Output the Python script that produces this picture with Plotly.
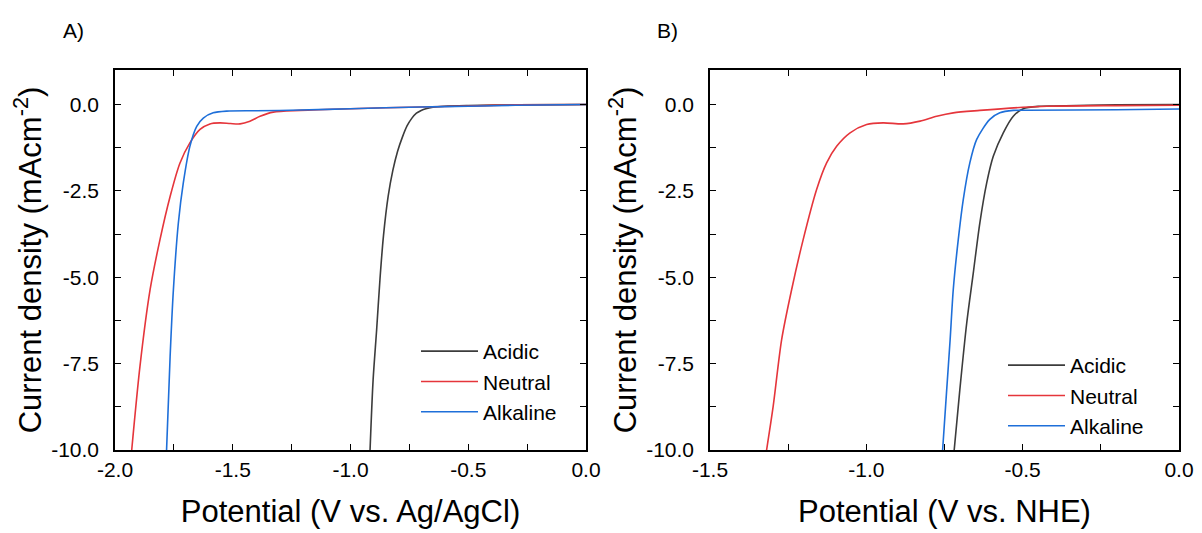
import plotly.graph_objects as go

# ---------------- Panel A data (V vs. Ag/AgCl) ----------------
a_acidic_x = [0.0, -0.3, -0.5, -0.6, -0.65, -0.68, -0.70, -0.72, -0.74, -0.76, -0.78, -0.80,
              -0.82, -0.84, -0.86, -0.875, -0.889, -0.904, -0.917]
a_acidic_y = [0.0, -0.01, -0.03, -0.05, -0.08, -0.12, -0.17, -0.25, -0.40, -0.62, -0.95, -1.35,
              -1.9, -2.65, -3.8, -5.07, -6.52, -7.97, -10.0]

a_neutral_x = [0.0, -0.3, -0.5, -0.7, -1.0, -1.214, -1.328, -1.384, -1.427, -1.469, -1.51,
               -1.554, -1.597, -1.639, -1.682, -1.724, -1.766, -1.809, -1.851, -1.894, -1.929]
a_neutral_y = [0.0, -0.01, -0.04, -0.07, -0.12, -0.17, -0.22, -0.34, -0.48, -0.56, -0.55,
               -0.53, -0.56, -0.72, -1.11, -1.69, -2.66, -3.91, -5.36, -7.58, -10.0]

a_alkaline_x = [0.0, -0.3, -0.5, -0.7, -1.0, -1.214, -1.4, -1.526, -1.583, -1.625, -1.653,
                -1.682, -1.710, -1.731, -1.752, -1.766, -1.781]
a_alkaline_y = [0.0, -0.02, -0.05, -0.07, -0.12, -0.16, -0.18, -0.19, -0.24, -0.39, -0.63,
                -1.21, -2.27, -3.43, -5.36, -7.3, -10.0]

# ---------------- Panel B data (V vs. NHE) ----------------
b_acidic_x = [0.0, -0.2, -0.4, -0.445, -0.498, -0.530, -0.562, -0.594, -0.615, -0.637, -0.658,
              -0.679, -0.701, -0.719]
b_acidic_y = [0.0, -0.01, -0.04, -0.05, -0.12, -0.34, -0.82, -1.50, -2.27, -3.43, -4.88,
              -6.33, -8.26, -10.0]

b_neutral_x = [0.0, -0.2, -0.422, -0.5, -0.637, -0.722, -0.775, -0.828, -0.882, -0.946, -0.999,
               -1.052, -1.095, -1.127, -1.159, -1.202, -1.239, -1.271, -1.298, -1.319]
b_neutral_y = [-0.02, -0.03, -0.05, -0.08, -0.17, -0.24, -0.34, -0.48, -0.56, -0.53, -0.58,
               -0.82, -1.21, -1.69, -2.46, -3.91, -5.36, -6.81, -8.74, -10.0]

b_alkaline_x = [0.0, -0.2, -0.488, -0.530, -0.573, -0.605, -0.647, -0.669, -0.690, -0.706,
                -0.722, -0.732, -0.743, -0.756]
b_alkaline_y = [-0.13, -0.15, -0.165, -0.17, -0.24, -0.43, -1.01, -1.69, -2.75, -3.91,
                -5.36, -6.81, -8.26, -10.0]

series_names = ["Acidic", "Neutral", "Alkaline"]
colors = ["#3c3c3c", "#e5353b", "#1e6fd9"]

y_tickvals = [0.0, -2.5, -5.0, -7.5, -10.0]
y_ticktext = ["0.0", "-2.5", "-5.0", "-7.5", "-10.0"]
xa_tickvals = [-2.0, -1.5, -1.0, -0.5, 0.0]
xa_ticktext = ["-2.0", "-1.5", "-1.0", "-0.5", "0.0"]
xb_tickvals = [-1.5, -1.0, -0.5, 0.0]
xb_ticktext = ["-1.5", "-1.0", "-0.5", "0.0"]

FONT = "Liberation Sans, Arial, sans-serif"

fig = go.Figure()
panel_a = [(a_acidic_x, a_acidic_y), (a_neutral_x, a_neutral_y), (a_alkaline_x, a_alkaline_y)]
panel_b = [(b_acidic_x, b_acidic_y), (b_neutral_x, b_neutral_y), (b_alkaline_x, b_alkaline_y)]

for (xs, ys), name, c in zip(panel_a, series_names, colors):
    fig.add_trace(go.Scatter(x=xs, y=ys, name=name, mode="lines",
                             line=dict(color=c, width=1.6, shape="spline", smoothing=0.8),
                             xaxis="x", yaxis="y", legend="legend"))
for (xs, ys), name, c in zip(panel_b, series_names, colors):
    fig.add_trace(go.Scatter(x=xs, y=ys, name=name, mode="lines",
                             line=dict(color=c, width=1.6, shape="spline", smoothing=0.8),
                             xaxis="x2", yaxis="y2", legend="legend2"))

W, H = 1202, 533
TICKFONT = dict(family=FONT, size=21, color="black")
TITLEFONT = dict(family=FONT, size=31, color="black")
ax_common = dict(showline=True, linecolor="black", linewidth=1.5, mirror="allticks",
                 ticks="inside", ticklen=6, tickwidth=1.3, tickcolor="black",
                 showgrid=False, zeroline=False, automargin=False,
                 tickfont=TICKFONT)
xminor = dict(tickmode="linear", tick0=0, dtick=0.25, ticks="inside", ticklen=6,
              tickwidth=1.3, tickcolor="black")
yminor = dict(tickmode="linear", tick0=0, dtick=1.25, ticks="inside", ticklen=6,
              tickwidth=1.3, tickcolor="black")
y_dom = [1 - 450 / H, 1 - 70 / H]
ytitle = "Current density (mAcm<sup>-2</sup>)"

fig.update_layout(
    width=W, height=H, plot_bgcolor="white", paper_bgcolor="white",
    margin=dict(l=0, r=0, t=0, b=0, autoexpand=False),
    showlegend=True,
    xaxis=dict(ax_common, domain=[115 / W, 586 / W], range=[-2.0, 0.0],
               tickmode="array", tickvals=xa_tickvals, ticktext=xa_ticktext,
               minor=xminor, ticklabelstandoff=0,
               title=dict(text="Potential (V vs. Ag/AgCl)", standoff=20, font=TITLEFONT),
               anchor="y"),
    yaxis=dict(ax_common, domain=y_dom, range=[-10.0, 1.0],
               tickmode="array", tickvals=y_tickvals, ticktext=y_ticktext,
               minor=yminor, ticklabelstandoff=10,
               title=dict(text=ytitle, standoff=0, font=TITLEFONT),
               anchor="x"),
    xaxis2=dict(ax_common, domain=[710 / W, 1179 / W], range=[-1.5, 0.0],
                tickmode="array", tickvals=xb_tickvals, ticktext=xb_ticktext,
                minor=xminor, ticklabelstandoff=0,
                title=dict(text="Potential (V vs. NHE)", standoff=20, font=TITLEFONT),
                anchor="y2"),
    yaxis2=dict(ax_common, domain=y_dom, range=[-10.0, 1.0],
                tickmode="array", tickvals=y_tickvals, ticktext=y_ticktext,
                minor=yminor, ticklabelstandoff=10,
                title=dict(text=ytitle, standoff=0, font=TITLEFONT),
                anchor="x2"),
    legend=dict(x=416 / W, y=1 - 331 / H, xanchor="left", yanchor="top",
                bgcolor="rgba(0,0,0,0)", itemwidth=57, tracegroupgap=0,
                font=dict(family=FONT, size=21, color="black")),
    legend2=dict(x=1003 / W, y=1 - 345 / H, xanchor="left", yanchor="top",
                 bgcolor="rgba(0,0,0,0)", itemwidth=57, tracegroupgap=0,
                 font=dict(family=FONT, size=21, color="black")),
    annotations=[
        dict(text="A)", x=61 / W, y=1 - 30 / H, xref="paper", yref="paper",
             xanchor="left", yanchor="middle", showarrow=False,
             font=dict(family=FONT, size=21, color="black")),
        dict(text="B)", x=655 / W, y=1 - 30 / H, xref="paper", yref="paper",
             xanchor="left", yanchor="middle", showarrow=False,
             font=dict(family=FONT, size=21, color="black")),
    ],
)

fig.write_html("out.html", config={"displayModeBar": False},
               post_script="document.body.style.margin='0';document.body.style.padding='0';")
